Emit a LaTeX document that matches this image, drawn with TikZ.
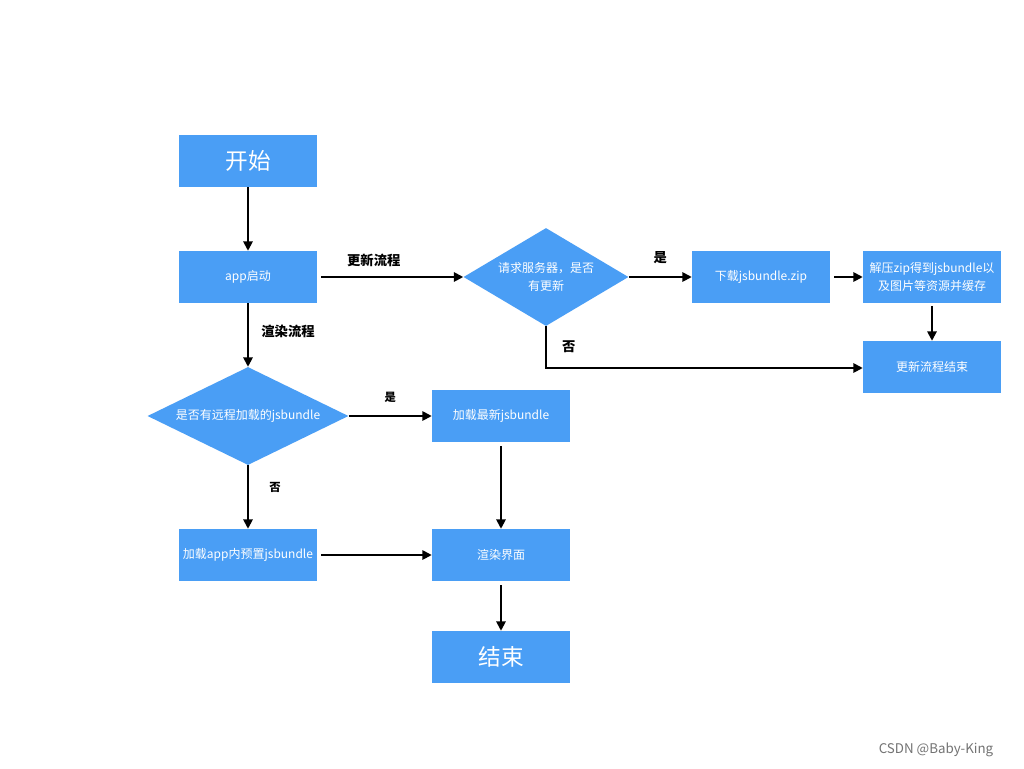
\documentclass[tikz,border=0pt]{standalone}
\usepackage{fontspec}
\setmainfont{Noto Sans CJK SC}
\usetikzlibrary{shapes.geometric,arrows.meta}
\definecolor{boxblue}{RGB}{74,158,245}
\begin{document}
\begin{tikzpicture}[x=0.75pt,y=-0.75pt,
  box/.style={fill=boxblue,draw=none,minimum width=103.5pt,minimum height=39pt,inner sep=0pt,text=white,font=\fontsize{9}{12}\selectfont,align=center},
  bigbox/.style={box,font=\fontsize{17}{20}\selectfont},
  arr/.style={draw=black,line width=1.4pt,-{Triangle[length=7pt,width=7pt]}},
  lbl/.style={font=\bfseries\fontsize{10}{12}\selectfont,text=black}]
\useasboundingbox (0,0) rectangle (1024,768);
\fill[white] (0,0) rectangle (1024,768);
\node[bigbox] (start) at (248,161) {开始};
\node[box] (app) at (248,277) {app启动};
\node[diamond,fill=boxblue,minimum width=123.75pt,minimum height=73.5pt,inner sep=0pt] (d1) at (546,277) {};
\node[text=white,font=\fontsize{9}{14}\selectfont,align=center] (d1t) at (546,277) {请求服务器，是否\\有更新};
\node[box] (down) at (761,277) {下载jsbundle.zip};
\node[box,font=\fontsize{9}{14}\selectfont] (unzip) at (932,277) {解压zip得到jsbundle以\\及图片等资源并缓存};
\node[box] (uend) at (932,367) {更新流程结束};
\node[diamond,fill=boxblue,minimum width=150.75pt,minimum height=73.5pt,inner sep=0pt] (d2) at (248,416) {};
\node[text=white,font=\fontsize{9}{12}\selectfont] (d2t) at (248,416) {是否有远程加载的jsbundle};
\node[box] (latest) at (501,416) {加载最新jsbundle};
\node[box] (preset) at (248,555) {加载app内预置jsbundle};
\node[box] (render) at (501,555) {渲染界面};
\node[bigbox] (end) at (501,657) {结束};
\coordinate (c1) at (546,368);
\draw[arr] (start) -- (app);
\draw[arr] ([xshift=3pt]app.east) -- (d1.west) node[lbl,pos=0.37,above=4pt] {更新流程};
\draw[arr] (app) -- (d2) node[lbl,pos=0.45,right=6pt] {渲染流程};
\draw[arr] (d1.east) -- (down.west) node[lbl,pos=0.5,above=6pt] {是};
\draw[arr] ([xshift=3pt]down.east) -- (unzip.west);
\draw[arr] ([yshift=-2pt]unzip.south) -- (uend.north);
\draw[arr] (d1.south) -- (c1) node[lbl,pos=0.5,right=8pt] {否} -- (c1 -| uend.west);
\draw[arr] (d2.east) -- (latest.west) node[lbl,pos=0.5,above=6pt,font=\bfseries\fontsize{8.5}{10}\selectfont] {是};
\draw[arr] (d2.south) -- (preset.north) node[lbl,pos=0.35,right=12pt,font=\bfseries\fontsize{8.5}{10}\selectfont] {否};
\draw[arr] ([yshift=-3pt]latest.south) -- (render.north);
\draw[arr] ([xshift=3pt]preset.east) -- (render.west);
\draw[arr] ([yshift=-3pt]render.south) -- (end.north);
\node[text=black!55,font=\fontsize{10}{12}\selectfont] (wm) at (936,750) {CSDN @Baby-King};
\end{tikzpicture}
\end{document}
